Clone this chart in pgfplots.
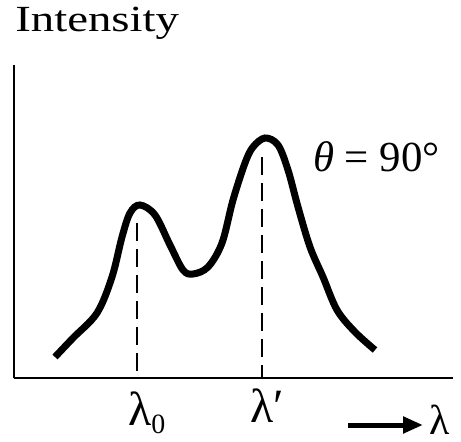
\documentclass[border=0pt]{standalone}
\usepackage{pgfplots}
\pgfplotsset{compat=1.18}
\usepackage{fontspec}
\setmainfont{Liberation Serif}
\usetikzlibrary{arrows.meta}

\begin{document}
\begin{tikzpicture}
\begin{axis}[
    scale only axis,
    x=1bp, y=1bp,
    xmin=14, xmax=453,
    ymin=64, ymax=377,
    axis x line=bottom,
    axis y line=left,
    axis line style={-, line width=2bp, black},
    xtick=\empty, ytick=\empty,
    clip=false,
]
% measured curve (x in px, y = 442 - px)
\addplot[black, line width=7bp, smooth, tension=0.55] coordinates {
    (55,85) (73,104) (97,129) (112,165) (122,205) (130,229) (140,237)
    (155,227) (170,197) (183,172) (193,168) (208,175) (222,199)
    (233,242) (245,279) (253,295) (265,304) (278,297) (288,272)
    (298,235) (310,195) (323,165) (337,132) (355,110) (375,92)
};
\addplot[black, line width=2.5bp, dash pattern=on 18bp off 8bp] coordinates {(137,219) (137,64)};
\addplot[black, line width=2.5bp, dash pattern=on 18bp off 8bp] coordinates {(262,285) (262,64)};

\node[anchor=base west, xscale=1.27, font=\fontsize{37}{39}\selectfont, inner sep=0] at (axis cs:15,410) {Intensity};
\node[anchor=base west, font=\fontsize{43}{45}\selectfont, inner sep=0] at (axis cs:313,270) {\textit{θ} = 90°};
\node[anchor=base west, font=\fontsize{48}{50}\selectfont, inner sep=0] at (axis cs:128,17) {λ\raisebox{-8bp}{\fontsize{28}{30}\selectfont 0}};
\node[anchor=base west, font=\fontsize{48}{50}\selectfont, inner sep=0] at (axis cs:250,20) {λ′};
\draw[-{Triangle[length=20bp, width=16bp]}, line width=5bp] (axis cs:348,17) -- (axis cs:423,17);
\node[anchor=base west, font=\fontsize{42}{44}\selectfont, inner sep=0] at (axis cs:429,8) {λ};

\coordinate (bl) at (axis cs:0,0);
\coordinate (tr) at (axis cs:461,442);
\end{axis}
\path[use as bounding box] (bl) rectangle (tr);
\end{tikzpicture}
\end{document}
